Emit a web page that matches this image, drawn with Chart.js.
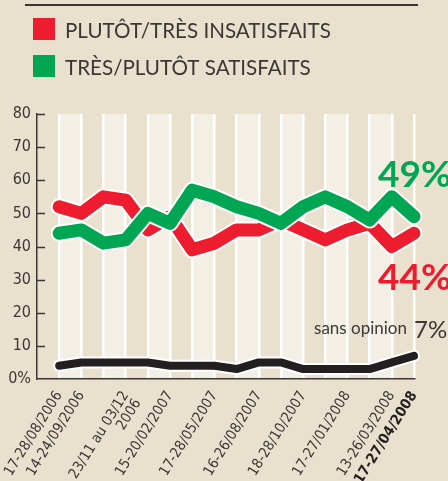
<!DOCTYPE html>
<html>
<head>
<meta charset="utf-8">
<script src="https://cdn.jsdelivr.net/npm/chart.js@4.4.1/dist/chart.umd.min.js"></script>
<style>
  html, body { margin: 0; padding: 0; background: #e9e1ce; }
</style>
</head>
<body>
<canvas id="myChart" width="448" height="481"></canvas>
<script>
// poll dates (blank = no label under that point)
const labels = [
  '17-28/08/2006', '14-24/09/2006', '', ['23/11 au 03/12', '2006'], '',
  '15-20/02/2007', '', '17-28/05/2007', '', '16-26/08/2007', '',
  '18-28/10/2007', '', '17-27/01/2008', '', '13-26/03/2008', '17-27/04/2008',
];

const insatisfaits = [52, 50, 55, 54, 45, 49, 39, 41, 45, 45, 48, 45, 42, 45, 47, 40, 44];
const satisfaits   = [44, 45, 41, 42, 50, 47, 57, 55, 52, 50, 47, 52, 55, 52, 48, 55, 49];
const sansOpinion  = [4, 5, 5, 5, 5, 4, 4, 4, 3, 5, 5, 3, 3, 3, 3, 5, 7];

const yTicks = [0, 10, 20, 30, 40, 50, 60, 70, 80];

const seriesNames = ['PLUTÔT/TRÈS INSATISFAITS', 'TRÈS/PLUTÔT SATISFAITS'];

const RED = '#ee1c2f';
const GREEN = '#00a651';
const BLACK = '#231f20';
const INK = '#3b3735';
const BG = '#e9e1ce';
const STRIPE = '#f3efe4';
const narrow = "'Liberation Sans Narrow', 'DejaVu Sans Condensed', sans-serif";
const humanist = "Lato, 'Open Sans', sans-serif";

// one empty slot in front so the first poll sits one step right of the axis
const allLabels = [''].concat(labels);
const pad = arr => [null].concat(arr);

function line(values, color, width, order) {
  return {
    data: pad(values),
    borderColor: color,
    borderWidth: width,
    pointRadius: 0,
    borderCapStyle: 'round',
    borderJoinStyle: 'round',
    tension: 0,
    fill: false,
    clip: false,
    order: order,
  };
}

const decor = {
  id: 'decor',
  beforeDraw(chart) {
    const { ctx, chartArea: a, scales: { x } } = chart;
    ctx.save();
    ctx.fillStyle = BG;
    ctx.fillRect(0, 0, chart.width, chart.height);
    ctx.fillStyle = STRIPE;
    for (let i = 1; i < allLabels.length - 1; i += 2) {
      const x0 = x.getPixelForValue(i);
      const x1 = x.getPixelForValue(i + 1);
      ctx.fillRect(x0, a.top, x1 - x0, a.bottom - a.top);
    }
    ctx.restore();
  },
  afterDraw(chart) {
    const { ctx, chartArea: a, scales: { x, y } } = chart;
    ctx.save();

    // rule at the very top
    ctx.fillStyle = INK;
    ctx.fillRect(25, 4, 393, 2);

    // legend
    ctx.font = '400 24px ' + humanist;
    const w0 = ctx.measureText(seriesNames[0]).width;
    const size = 24 * 266 / w0;
    ctx.font = '400 ' + size.toFixed(2) + 'px ' + humanist;
    ctx.textBaseline = 'alphabetic';
    [RED, GREEN].forEach((c, i) => {
      ctx.fillStyle = c;
      ctx.fillRect(33, 18 + i * 37, 22, 22);
      ctx.fillStyle = INK;
      ctx.fillText(seriesNames[i], 65, 37.5 + i * 37.5);
    });

    // inward y ticks
    ctx.strokeStyle = INK;
    ctx.lineWidth = 1.5;
    yTicks.slice(1).forEach(v => {
      const py = Math.round(y.getPixelForValue(v)) + 0.5;
      ctx.beginPath();
      ctx.moveTo(a.left, py);
      ctx.lineTo(a.left + 8, py);
      ctx.stroke();
    });

    // end-of-line values
    const last = allLabels.length - 1;
    const lx = x.getPixelForValue(last);
    ctx.textAlign = 'left';
    ctx.font = '700 37px ' + humanist;
    ctx.fillStyle = GREEN;
    ctx.fillText(satisfaits[satisfaits.length - 1] + '%', lx - 36, y.getPixelForValue(satisfaits[satisfaits.length - 1]) - 30);
    ctx.fillStyle = RED;
    ctx.fillText(insatisfaits[insatisfaits.length - 1] + '%', lx - 36, y.getPixelForValue(insatisfaits[insatisfaits.length - 1]) + 57);

    const so = sansOpinion[sansOpinion.length - 1];
    ctx.fillStyle = INK;
    ctx.font = '400 17px ' + humanist;
    ctx.textAlign = 'right';
    ctx.fillText('sans opinion', lx - 7, y.getPixelForValue(so) - 22);
    ctx.textAlign = 'left';
    ctx.font = '400 24px ' + humanist;
    ctx.fillText(so + '%', lx, y.getPixelForValue(so) - 18);
    ctx.restore();
  },
};

const config = {
  type: 'line',
  data: {
    labels: allLabels,
    datasets: [
      line(sansOpinion, BLACK, 8, 0),
      line(sansOpinion, '#ffffff', 12, 1),
      line(satisfaits, GREEN, 13, 2),
      line(satisfaits, '#ffffff', 17, 3),
      line(insatisfaits, RED, 13, 4),
      line(insatisfaits, '#ffffff', 17, 5),
    ],
  },
  options: {
    responsive: false,
    animation: false,
    layout: { padding: { top: 114, right: 34, left: 0, bottom: 0 } },
    plugins: {
      legend: { display: false },
      tooltip: { enabled: false },
    },
    scales: {
      x: {
        grid: {
          color: c => (c.index === 0 ? 'rgba(0,0,0,0)' : '#ffffff'),
          lineWidth: 2.5,
          drawTicks: false,
        },
        border: { display: true, color: INK, width: 1.5 },
        ticks: {
          autoSkip: false,
          maxRotation: 58,
          minRotation: 58,
          padding: 10,
          color: c => (c.index === allLabels.length - 1 ? BLACK : INK),
          font: c => ({
            family: narrow,
            size: 14.5,
            weight: c.index === allLabels.length - 1 ? 'bold' : 'normal',
            lineHeight: 1.0,
          }),
        },
        afterFit: s => { s.height = 102; s.paddingLeft = 0; s.paddingRight = 0; },
      },
      y: {
        min: 0,
        max: 80,
        afterBuildTicks: s => { s.ticks = yTicks.map(v => ({ value: v })); },
        grid: { display: false, drawTicks: false },
        border: { display: true, color: INK, width: 1.5 },
        ticks: {
          padding: 6,
          color: INK,
          font: { family: narrow, size: 16 },
          callback: v => (v === 0 ? '0%' : String(v)),
        },
        afterFit: s => { s.width = 37; s.paddingTop = 0; s.paddingBottom = 0; },
      },
    },
  },
  plugins: [decor],
};

const myChart = new Chart(document.getElementById('myChart'), config);
</script>
</body>
</html>
